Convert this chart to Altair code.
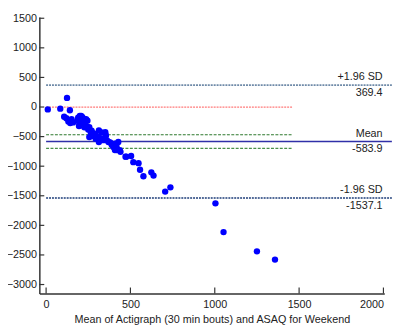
import altair as alt
import pandas as pd

# Bland-Altman data: mean of methods (x) and difference (y)
mean_x = [10, 84, 124, 141, 107, 132, 151, 143, 120, 160,
          190, 200, 208, 215, 225, 237, 245, 199, 210, 220,
          232, 185, 195, 205, 227, 240, 256, 250, 265, 270,
          280, 290, 313, 330, 351, 256, 270, 294, 310, 332,
          313, 340, 361, 355, 370, 380, 399, 408, 418, 428,
          408, 418, 437, 441, 390, 471, 475, 504, 517, 548,
          557, 577, 624, 637, 706, 737, 1004, 1052, 1250, 1357]
diff_y = [-40, -28, 154, -55, -165, -243, -204, -270, -190, -260,
          -180, -150, -150, -170, -200, -204, -230, -286, -250, -280,
          -300, -230, -320, -310, -342, -330, -342, -380, -425, -400,
          -440, -460, -397, -430, -425, -508, -490, -535, -500, -535,
          -591, -560, -563, -480, -591, -600, -674, -618, -674, -591,
          -728, -728, -728, -757, -640, -839, -839, -828, -932, -949,
          -1060, -1170, -1104, -1159, -1429, -1358, -1628, -2114, -2439, -2578]

upper_loa = 369.4
mean_diff = -583.9
lower_loa = -1537.1
ci_mean = [-469.0, -699.0]
x_ticks = [0, 500, 1000, 1500, 2000]
y_ticks = [-3000, -2500, -2000, -1500, -1000, -500, 0, 500, 1000, 1500]
ref_names = ["+1.96 SD", "Mean", "-1.96 SD"]
ref_values = [upper_loa, mean_diff, lower_loa]
ref_texts = ["369.4", "-583.9", "-1537.1"]

W, H = 352, 282
FONT = "Liberation Sans"
X_TITLE = "Mean of Actigraph (30 min bouts) and ASAQ for Weekend"

xs = alt.Scale(domain=[-40, 2005], nice=False, zero=False)
ys = alt.Scale(domain=[-3150, 1520], nice=False, zero=False)
x_axis = alt.Axis(values=x_ticks, title=X_TITLE, format="d", labelPadding=5, titlePadding=5)
y_axis = alt.Axis(values=y_ticks, title=None, format="d", labelPadding=3)

def X(field):
    return alt.X(field, type="quantitative", scale=xs, axis=x_axis)

def Y(field):
    return alt.Y(field, type="quantitative", scale=ys, axis=y_axis)

pts_df = pd.DataFrame({"x": mean_x, "y": diff_y})

def hline(yval, x_end, color, dash, width=1.5):
    d = pd.DataFrame({"x0": [0], "x1": [x_end], "y": [yval]})
    kw = dict(color=color, strokeWidth=width, clip=False)
    if dash:
        kw["strokeDash"] = dash
    return alt.Chart(d).mark_rule(**kw).encode(x=X("x0"), x2="x1", y=Y("y"))

lines = [
    hline(0, 1460, "#ff7a7a", [2, 1], 1.3),
    hline(ci_mean[0], 1460, "#2f7a2f", [3, 1.5], 1.2),
    hline(ci_mean[1], 1460, "#4a8f4a", [3, 1.5], 1.2),
    hline(upper_loa, 2050, "#6f8aa8", [2, 1], 1.6),
    hline(mean_diff, 2050, "#3030a8", None, 1.6),
    hline(lower_loa, 2050, "#1c3c78", [2, 1], 1.6),
]

ytick_df = pd.DataFrame({"t": y_ticks})
xtick_df = pd.DataFrame({"t": x_ticks})
yticks = alt.Chart(ytick_df).mark_rule(color="#333333", strokeWidth=1.2).encode(
    y=Y("t"), x=alt.value(0), x2=alt.value(5))
xticks = alt.Chart(xtick_df).mark_rule(color="#333333", strokeWidth=1.2).encode(
    x=X("t"), y=alt.value(H), y2=alt.value(H - 6))

points = alt.Chart(pts_df).mark_circle(size=42, color="#0000ff", opacity=1).encode(
    x=X("x"), y=Y("y"))

txt_df = pd.DataFrame({"x": [1995] * 3, "y": ref_values, "name": ref_names, "val": ref_texts})
txt_above = alt.Chart(txt_df).mark_text(align="right", baseline="middle", dy=-8,
                                        fontSize=11, font=FONT, color="#222222").encode(
    x=X("x"), y=Y("y"), text="name:N")
txt_below = alt.Chart(txt_df).mark_text(align="right", baseline="middle", dy=8,
                                        fontSize=11, font=FONT, color="#222222").encode(
    x=X("x"), y=Y("y"), text="val:N")

chart = alt.layer(*lines, yticks, xticks, points, txt_above, txt_below).properties(
    width=W, height=H,
    autosize=alt.AutoSizeParams(type="none"),
    padding={"left": 32, "top": 6, "right": 14, "bottom": 30},
).configure_view(stroke=None).configure_axis(
    grid=False, domainColor="#333333", domainWidth=1.5, tickSize=0,
    labelFont=FONT, labelFontSize=11, labelColor="#222222",
    titleFont=FONT, titleFontSize=11, titleFontWeight="normal", titleColor="#222222",
)

chart.save("out.html", embed_options={"renderer": "svg", "actions": False})
